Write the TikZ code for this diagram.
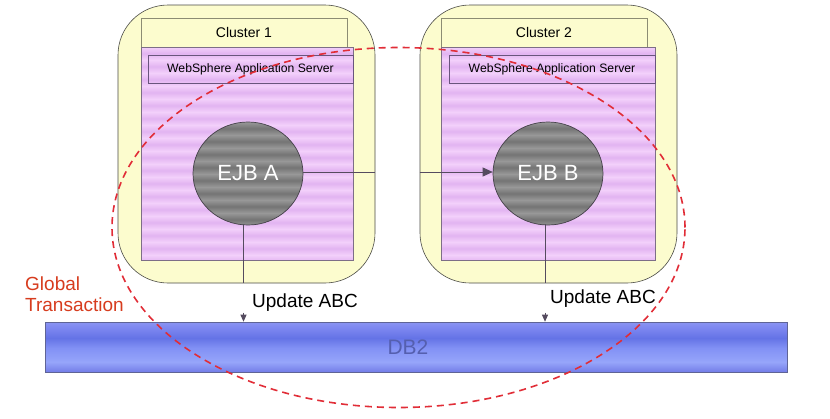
\documentclass[tikz,border=0pt]{standalone}
\usepackage{fontspec}
\setmainfont{Liberation Sans}
\usetikzlibrary{calc,arrows.meta,shapes.geometric}
\definecolor{yel}{RGB}{252,252,206}
\definecolor{yelb}{RGB}{75,75,70}
\definecolor{titleb}{RGB}{140,140,115}
\definecolor{pl}{RGB}{243,208,251}
\definecolor{pd}{RGB}{226,180,241}
\definecolor{pb}{RGB}{125,110,135}
\definecolor{wasb}{RGB}{105,85,125}
\definecolor{gl}{RGB}{152,152,152}
\definecolor{gd}{RGB}{116,116,116}
\definecolor{gb}{RGB}{70,65,75}
\definecolor{lin}{RGB}{85,75,95}
\definecolor{gt}{RGB}{215,60,30}
\definecolor{rd}{RGB}{225,45,55}
\definecolor{dbt}{RGB}{85,95,175}
\definecolor{dbb}{RGB}{95,100,150}
\definecolor{dA}{RGB}{115,125,232}
\definecolor{dB}{RGB}{150,165,250}
\definecolor{dC}{RGB}{130,145,245}
\definecolor{dD}{RGB}{100,115,230}
\definecolor{dE}{RGB}{125,135,240}
\definecolor{dF}{RGB}{138,148,243}
\pgfdeclareverticalshading{dbsh}{100bp}{color(0bp)=(dA); color(25bp)=(dA); color(35bp)=(dB); color(49bp)=(dC); color(59bp)=(dD); color(69bp)=(dE); color(75bp)=(dF); color(100bp)=(dF)}
\newcommand\bandsrect[6]{%
  \begin{scope}
  \clip (#1,#2) rectangle (#3,#4);
  \fill[#5] (#1,#2) rectangle (#3,#4);
  \foreach \k in {0,...,17}{
    \shade[top color=#5,bottom color=#5,middle color=#6] (#1,{#2+13*\k}) rectangle (#3,{#2+13*\k+13});
  }
  \end{scope}}
\newcommand\bandsell[2]{%
  \begin{scope}
  \clip (#1,#2) ellipse [x radius=55, y radius=51.5];
  \fill[gl] (#1,#2) ellipse [x radius=55, y radius=51.5];
  \foreach \k in {0,...,8}{
    \shade[top color=gl,bottom color=gl,middle color=gd] ({#1-60},{#2-51.5+13*\k}) rectangle ({#1+60},{#2-51.5+13*\k+13});
  }
  \end{scope}}
\tikzset{
  cluster/.style={draw=yelb, line width=0.6, fill=yel, rounded corners=50, minimum width=257, minimum height=278, inner sep=0},
  titlebox/.style={draw=titleb, line width=0.8, fill=yel, minimum height=29, inner sep=0, font=\fontsize{14}{16}\selectfont},
  pbox/.style={draw=pb, line width=0.9, minimum height=213, inner sep=0},
  wasbox/.style={draw=wasb, line width=0.9, minimum height=28, inner sep=0, font=\fontsize{12.2}{14}\selectfont},
  ejb/.style={ellipse, draw=gb, line width=0.7, minimum width=110, minimum height=103, inner sep=0, text=white, font=\fontsize{22}{24}\selectfont},
  conn/.style={draw=lin, line width=0.8},
  lbl/.style={anchor=west, inner sep=0, font=\fontsize{19}{21}\selectfont},
  gtl/.style={anchor=base west, inner sep=0, text=gt, font=\fontsize{19}{21}\selectfont},
}
\begin{document}
\begin{tikzpicture}[x=1pt,y=-1pt]
\useasboundingbox (0,0) rectangle (830,418);
\fill[white] (0,0) rectangle (830,418);
% clusters
\node[cluster] (c1) at (246.5,144) {};
\node[cluster] (c2) at (548.5,144) {};
\node[titlebox, minimum width=206] (t1) at (244,32.5) {Cluster 1};
\node[titlebox, minimum width=206] (t2) at (544,32.5) {Cluster 2};
% purple striped server areas
\bandsrect{141}{47}{353}{260}{pl}{pd}
\bandsrect{441}{47}{655}{260}{pl}{pd}
\node[pbox, minimum width=212] (p1) at (247,153.5) {};
\node[pbox, minimum width=214] (p2) at (548,153.5) {};
\node[wasbox, minimum width=205] (w1) at (250.5,69) {WebSphere Application Server};
\node[wasbox, minimum width=206] (w2) at (552,69) {WebSphere Application Server};
% EJBs
\bandsell{248}{173.5}
\bandsell{548}{173.5}
\node[ejb] (EA) at (248,173.5) {EJB A};
\node[ejb] (EB) at (548,173.5) {EJB B};
% DB2 bar
\node[shade, shading=dbsh, draw=dbb, line width=0.6, minimum width=742, minimum height=50, inner sep=0] (db) at (416,347) {};
\node[text=dbt, inner sep=0, font=\fontsize{21}{23}\selectfont] (dbl) at (408,347) {DB2};
% connectors
\coordinate (h1) at ($(EA.east)+(0,-1.5)$);
\coordinate (h2) at ($(EB.west)+(0,-1.5)$);
\draw[conn] (h1) -- (h1 -| c1.east);
\draw[conn, -{Triangle[length=10,width=9]}] (h2 -| c2.west) -- (h2);
\coordinate (v1) at ($(EA.south)+(-4.5,-1)$);
\coordinate (v2) at ($(EB.south)+(-3,-1)$);
\draw[conn] (v1) -- (v1 |- c1.south);
\draw[conn] (v2) -- (v2 |- c2.south);
\coordinate (a1) at ($(v1 |- db.north)+(0,-9)$);
\coordinate (a2) at ($(v2 |- db.north)+(0,-9)$);
\draw[conn, -{Triangle[length=7,width=6]}] (a1) -- (a1 |- db.north);
\draw[conn, -{Triangle[length=7,width=6]}] (a2) -- (a2 |- db.north);
% labels
\node[lbl] (u1) at (252,303) {Update ABC};
\node[lbl] (u2) at (550,299) {Update ABC};
\node[gtl] (g1) at (25,290) {Global};
\node[gtl] (g2) at (25,311) {Transaction};
% global transaction boundary
\node[ellipse, draw=rd, line width=1.6, dash pattern=on 7pt off 5pt, minimum width=573, minimum height=360, inner sep=0] (ge) at (398.5,227.5) {};
\end{tikzpicture}
\end{document}
